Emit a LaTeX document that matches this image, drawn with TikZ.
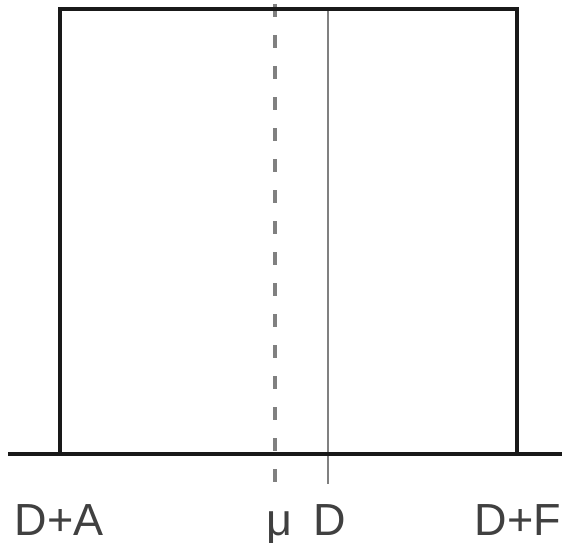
\documentclass[tikz,border=0pt]{standalone}
\usepackage{fontspec}
\setmainfont{Liberation Sans}
\begin{document}
\begin{tikzpicture}[x=1pt,y=-1pt,
  heavy/.style={line width=4.5pt,color=black!90},
  marker/.style={line width=3.5pt,color=black!50},
  lbl/.style={anchor=base,inner sep=0pt,text=black!75,font=\fontsize{45}{50}\selectfont}]
  \useasboundingbox (0,0) rectangle (562,543);
  % points on the axis and at the top of the box
  \coordinate (axl) at (8,454);
  \coordinate (axr) at (562,454);
  \coordinate (bl) at (60,454);
  \coordinate (tl) at (60,9);
  \coordinate (tr) at (517,9);
  \coordinate (br) at (517,454);
  \coordinate (mutop) at (275,4);
  \coordinate (mubot) at (275,488);
  \coordinate (dtop) at (328,9);
  \coordinate (dbot) at (328,484);
  % mean (dashed) and D (thin solid)
  \draw[marker,dash pattern=on 13pt off 18pt] (mutop) -- (mubot);
  \draw[marker,line width=2.8pt] (dtop) -- (dbot);
  % uniform density box and axis
  \draw[heavy,line join=miter] (bl) -- (tl) -- (tr) -- (br);
  \draw[heavy] (axl) -- (axr);
  % labels
  \node[lbl] (la) at (59,535) {D+A};
  \node[lbl] (lmu) at (279,535) {μ};
  \node[lbl] (ld) at (330,535) {D};
  \node[lbl] (lf) at (518,535) {D+F};
\end{tikzpicture}
\end{document}
